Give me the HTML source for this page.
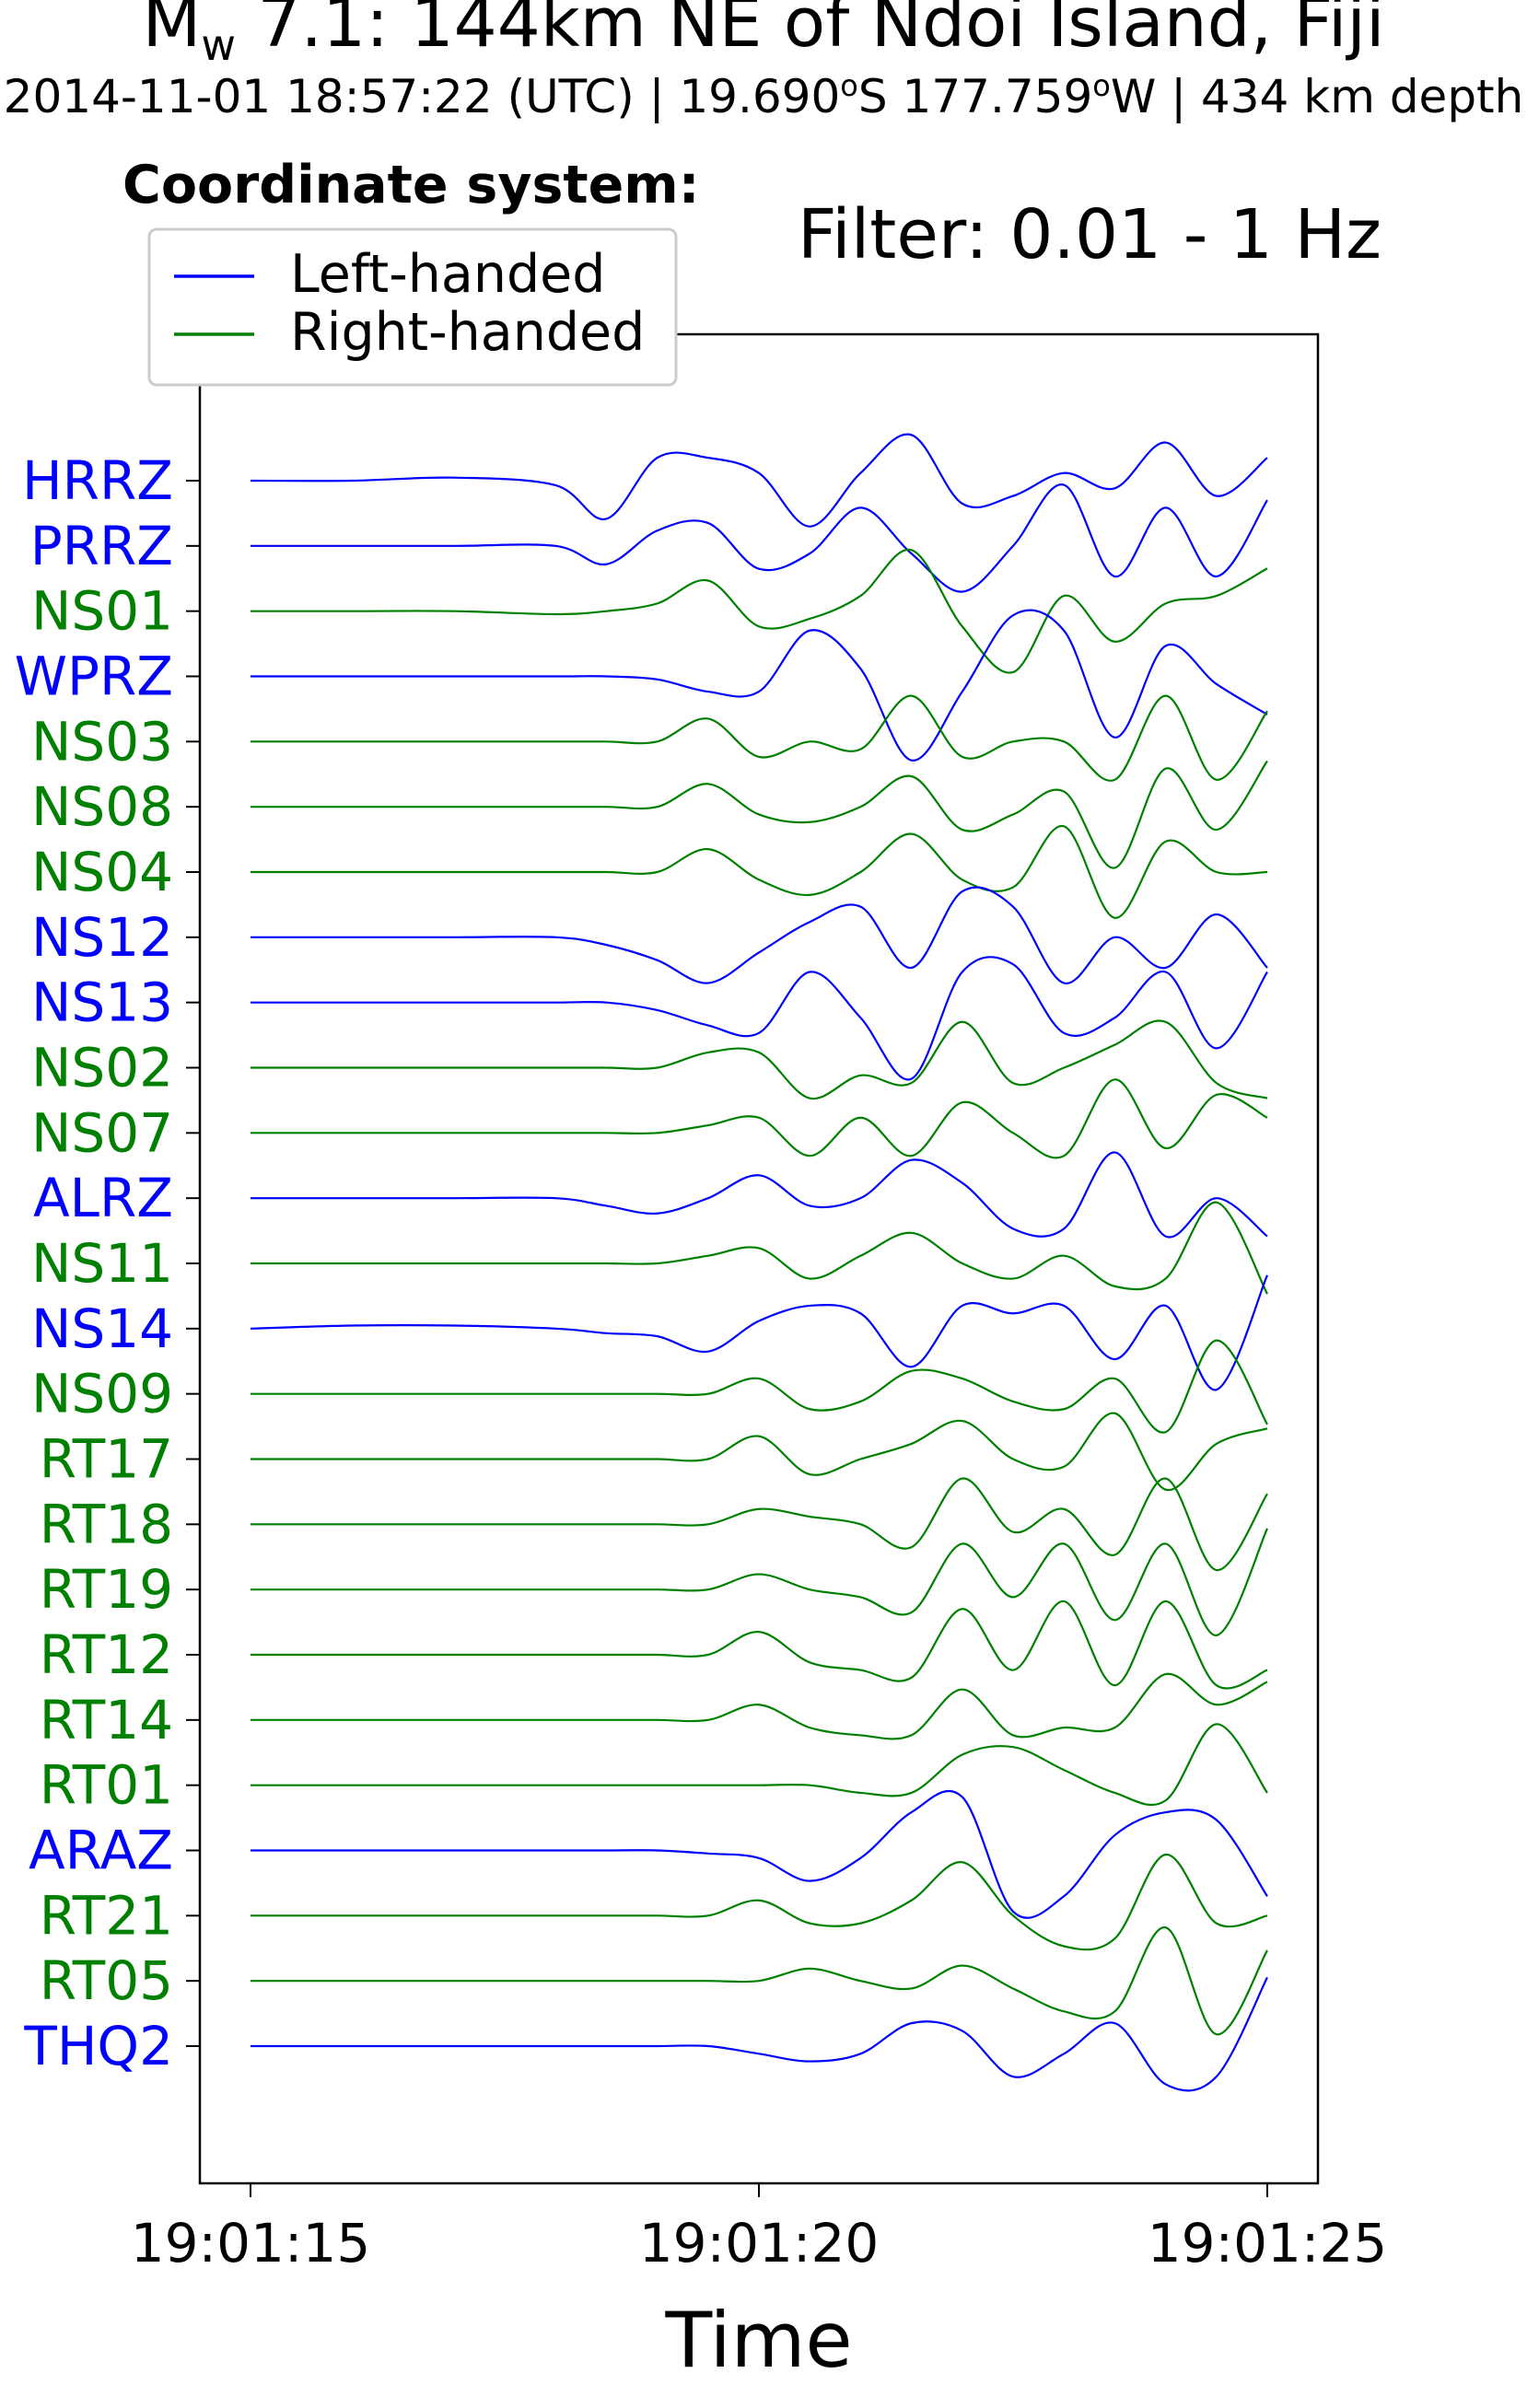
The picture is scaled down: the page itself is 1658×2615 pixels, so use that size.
<!DOCTYPE html>
<html><head><meta charset="utf-8"><style>
html,body{margin:0;padding:0;background:#fff;}
svg{display:block;font-family:"DejaVu Sans","Liberation Sans",sans-serif;}
</style></head><body>
<svg id="chart" width="1658" height="2615" viewBox="0 0 1658 2615" xmlns="http://www.w3.org/2000/svg">
<text x="829" y="50" font-size="74" text-anchor="middle">M<tspan font-size="46" dy="15">w</tspan><tspan dy="-15"> 7.1: 144km NE of Ndoi Island, Fiji</tspan></text>
<text x="829" y="122" font-size="50" text-anchor="middle">2014-11-01 18:57:22 (UTC) | 19.690<tspan font-size="32" dy="-18">o</tspan><tspan dy="18">S 177.759</tspan><tspan font-size="32" dy="-18">o</tspan><tspan dy="18">W | 434 km depth</tspan></text>
<text x="866" y="280" font-size="74">Filter: 0.01 - 1 Hz</text>
<rect x="217" y="363" width="1214" height="2008" fill="none" stroke="#000" stroke-width="2.5"/>
<g id="traces"></g>
<g id="yaxis"></g>
<g id="xaxis"></g>
<text x="824" y="2570" font-size="83" text-anchor="middle">Time</text>
<text x="133" y="220" font-size="57" font-weight="bold">Coordinate system:</text>
<g>
<rect x="162" y="249" width="572" height="169" rx="8" fill="#fff" stroke="#ccc" stroke-width="3"/>
<line x1="189" y1="300" x2="276" y2="300" stroke="#0000ff" stroke-width="3.5"/>
<text x="315" y="317" font-size="57">Left-handed</text>
<line x1="189" y1="363" x2="276" y2="363" stroke="#008000" stroke-width="3.5"/>
<text x="315" y="380" font-size="57">Right-handed</text>
</g>
</svg>
<script>
const stations = ["HRRZ","PRRZ","NS01","WPRZ","NS03","NS08","NS04","NS12","NS13","NS02","NS07","ALRZ","NS11","NS14","NS09","RT17","RT18","RT19","RT12","RT14","RT01","ARAZ","RT21","RT05","THQ2"];
const handed = ["L","L","R","L","R","R","R","L","L","R","R","L","R","L","R","R","R","R","R","R","R","L","R","R","L"];
const times = [15,16,17,18,18.5,19,19.5,20,20.5,21,21.5,22,22.5,23,23.5,24,24.5,25];
const tr_HRRZ = [0,0,2,-3,-25,15,15,5,-30,5,30,-15,-10,5,-5,25,-10,15];
const tr_PRRZ = [0,0,0,0,-12,10,15,-15,-5,25,-5,-30,0,40,-20,25,-20,30];
const tr_NS01 = [0,0,0,-2,0,5,20,-10,-5,10,40,-10,-40,10,-20,5,10,28];
const tr_WPRZ = [0,0,0,0,0,-2,-10,-10,30,5,-55,-10,40,30,-40,20,-5,-25];
const tr_NS03 = [0,0,0,0,0,0,15,-10,0,-5,30,-10,0,0,-25,30,-25,20];
const tr_NS08 = [0,0,0,0,0,0,15,-5,-10,0,20,-15,-5,10,-40,25,-15,30];
const tr_NS04 = [0,0,0,0,0,0,15,-5,-15,0,25,-5,-10,30,-30,20,0,0];
const tr_NS12 = [0,0,0,0,-5,-15,-30,-10,10,20,-20,30,20,-30,0,-20,15,-20];
const tr_NS13 = [0,0,0,0,0,-5,-15,-20,20,-10,-50,20,25,-20,-10,20,-30,20];
const tr_NS02 = [0,0,0,0,0,0,10,10,-20,-5,-10,30,-10,0,15,30,-10,-20];
const tr_NS07 = [0,0,0,0,0,0,5,10,-15,10,-15,20,0,-15,35,-10,25,10];
const tr_ALRZ = [0,0,0,0,-5,-10,0,15,-5,0,25,10,-20,-20,30,-25,0,-25];
const tr_NS11 = [0,0,0,0,0,0,5,10,-10,5,20,0,-10,5,-15,-10,40,-20];
const tr_NS14 = [0,2,2,0,-3,-5,-15,5,15,10,-25,15,10,15,-20,15,-40,35];
const tr_NS09 = [0,0,0,0,0,0,0,10,-10,-5,15,10,-5,-10,10,-25,35,-20];
const tr_RT17 = [0,0,0,0,0,0,0,15,-10,0,10,25,0,-5,30,-20,10,20];
const tr_RT18 = [0,0,0,0,0,0,0,10,5,0,-15,30,-5,10,-20,30,-30,20];
const tr_RT19 = [0,0,0,0,0,0,0,10,0,-5,-15,30,-5,30,-20,30,-30,40];
const tr_RT12 = [0,0,0,0,0,0,0,15,-5,-10,-15,30,-10,35,-20,35,-20,-10];
const tr_RT14 = [0,0,0,0,0,0,0,10,-5,-10,-10,20,-10,-5,-5,30,10,25];
const tr_RT01 = [0,0,0,0,0,0,0,0,0,-5,-5,20,25,10,-5,-10,40,-5];
const tr_ARAZ = [0,0,0,0,0,0,-2,-5,-20,-5,25,35,-40,-30,10,25,20,-30];
const tr_RT21 = [0,0,0,0,0,0,0,10,-5,-5,10,35,0,-20,-15,40,-5,0];
const tr_RT05 = [0,0,0,0,0,0,0,0,8,0,-5,10,-5,-20,-20,35,-35,20];
const tr_THQ2 = [0,0,0,0,0,0,0,-5,-10,-5,15,10,-20,-5,15,-25,-20,45];
const traces = [tr_HRRZ,tr_PRRZ,tr_NS01,tr_WPRZ,tr_NS03,tr_NS08,tr_NS04,tr_NS12,tr_NS13,tr_NS02,tr_NS07,tr_ALRZ,tr_NS11,tr_NS14,tr_NS09,tr_RT17,tr_RT18,tr_RT19,tr_RT12,tr_RT14,tr_RT01,tr_ARAZ,tr_RT21,tr_RT05,tr_THQ2];
const xTicks = [15,20,25];
const xTickLabels = ["19:01:15","19:01:20","19:01:25"];

const NS="http://www.w3.org/2000/svg";
function xScale(t){return 272+(t-15)*(1376-272)/10;}
function rowY(i){return 522+i*(2222-522)/24;}
function ampScale(a){return -a*1.658;}
const colorOf={L:"#0000ff",R:"#008000"};
const gT=document.getElementById('traces'),gY=document.getElementById('yaxis'),gX=document.getElementById('xaxis');
traces.forEach((vals,i)=>{
  const pts=vals.map((v,k)=>[xScale(times[k]),rowY(i)+ampScale(v)]);
  let d="M"+pts[0][0]+","+pts[0][1];
  for(let k=0;k<pts.length-1;k++){
    const p0=pts[Math.max(0,k-1)],p1=pts[k],p2=pts[k+1],p3=pts[Math.min(pts.length-1,k+2)];
    const c1=[p1[0]+(p2[0]-p0[0])/6,p1[1]+(p2[1]-p0[1])/6];
    const c2=[p2[0]-(p3[0]-p1[0])/6,p2[1]-(p3[1]-p1[1])/6];
    d+=" C"+c1[0]+","+c1[1]+" "+c2[0]+","+c2[1]+" "+p2[0]+","+p2[1];
  }
  const path=document.createElementNS(NS,'path');
  path.setAttribute('d',d);path.setAttribute('fill','none');
  path.setAttribute('stroke',colorOf[handed[i]]);path.setAttribute('stroke-width','2.2');
  
  
  gT.appendChild(path);
  const tk=document.createElementNS(NS,'line');
  tk.setAttribute('x1',202);tk.setAttribute('x2',217);tk.setAttribute('y1',rowY(i));tk.setAttribute('y2',rowY(i));
  tk.setAttribute('stroke','#000');tk.setAttribute('stroke-width','2');
  
  
  gY.appendChild(tk);
  const tx=document.createElementNS(NS,'text');
  tx.setAttribute('x',188);tx.setAttribute('y',rowY(i)+20);tx.setAttribute('text-anchor','end');
  tx.setAttribute('font-size','58');tx.setAttribute('fill',colorOf[handed[i]]);
  tx.textContent=stations[i];
  
  
  gY.appendChild(tx);
});
xTicks.forEach((t,i)=>{
  const tk=document.createElementNS(NS,'line');
  tk.setAttribute('x1',xScale(t));tk.setAttribute('x2',xScale(t));tk.setAttribute('y1',2371);tk.setAttribute('y2',2386);
  tk.setAttribute('stroke','#000');tk.setAttribute('stroke-width','2');
  
  
  gX.appendChild(tk);
  const tx=document.createElementNS(NS,'text');
  tx.setAttribute('x',xScale(t));tx.setAttribute('y',2456);tx.setAttribute('text-anchor','middle');
  tx.setAttribute('font-size','58');tx.textContent=xTickLabels[i];
  
  
  gX.appendChild(tx);
});
</script>
</body></html>
